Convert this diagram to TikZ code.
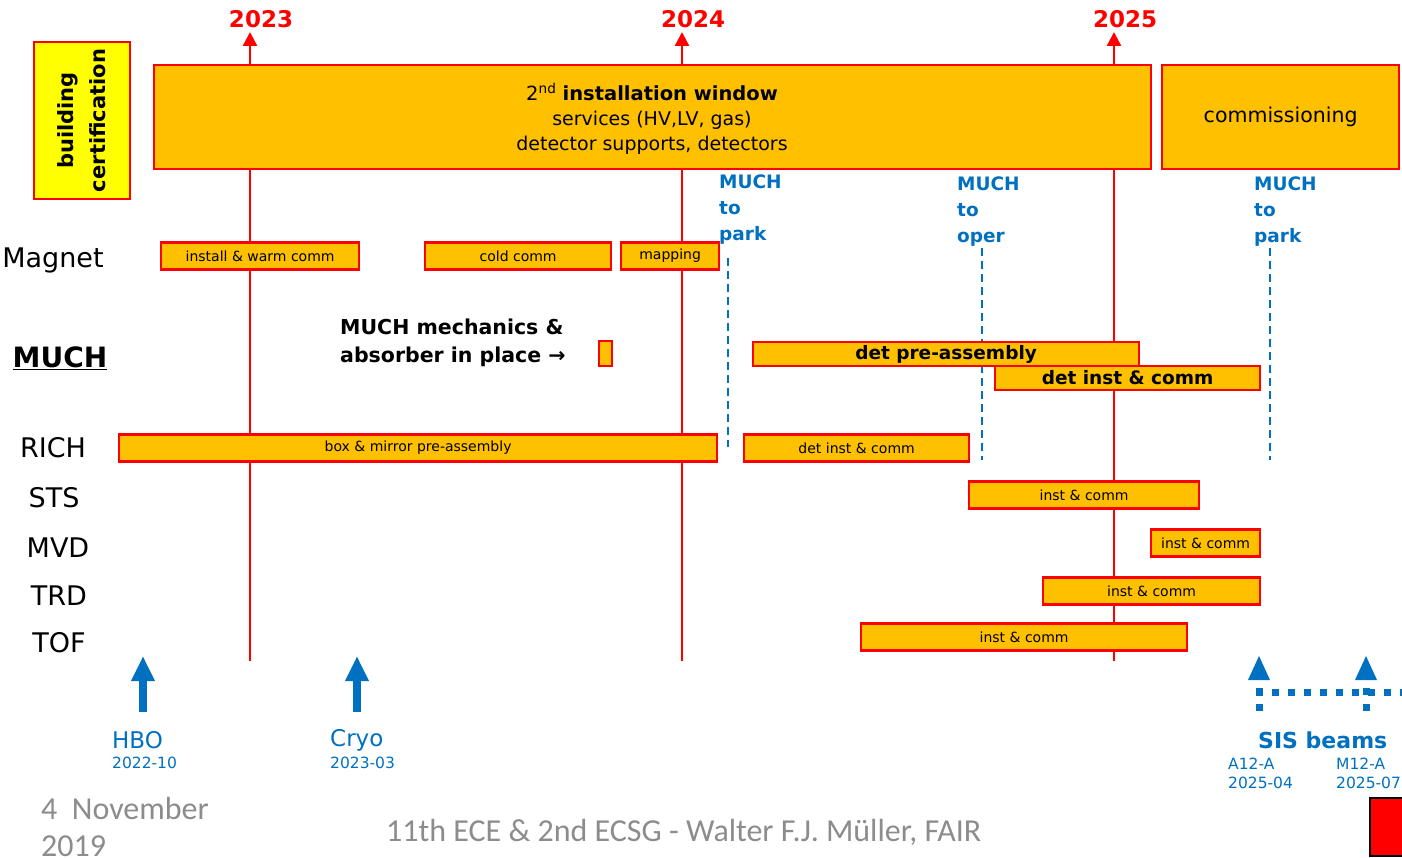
\documentclass[tikz,border=0pt]{standalone}
\usepackage{fontspec}
\setmainfont{DejaVu Sans}
\newfontfamily\footfont{Carlito}
\usetikzlibrary{arrows.meta,positioning}
\definecolor{barfill}{HTML}{FFC000}
\definecolor{barline}{HTML}{FF0000}
\definecolor{certfill}{HTML}{FFFF00}
\definecolor{muchblue}{HTML}{0070C0}
\definecolor{footgray}{HTML}{8C8C8C}
\tikzset{
  year/.style={draw=barline, line width=2.5pt, -{Triangle[width=14pt,length=14pt]}},
  yearlabel/.style={text=barline, font=\fontsize{23}{23}\selectfont\bfseries},
  bar/.style={draw=barline, fill=barfill, line width=2.2pt, inner sep=0pt, minimum height=27pt, anchor=west, font=\fontsize{14}{14}\selectfont},
  boldbar/.style={bar, minimum height=24pt, font=\fontsize{18.5}{18.5}\selectfont\bfseries},
  row/.style={font=\fontsize{27}{27}\selectfont},
  parklabel/.style={text=muchblue, anchor=west, align=left, inner sep=0pt, font=\fontsize{18.5}{26}\selectfont\bfseries},
  parkline/.style={draw=muchblue, line width=2pt, dash pattern=on 8pt off 5pt},
  bluearrow/.style={draw=muchblue, line width=8pt, -{Triangle[width=22pt,length=25pt]}},
  sisdot/.style={draw=muchblue, line width=7pt, dash pattern=on 7pt off 9pt},
  milestone/.style={text=muchblue, anchor=west, inner sep=0pt, font=\fontsize{23}{23}\selectfont},
  msdate/.style={text=muchblue, anchor=west, inner sep=0pt, font=\fontsize{15.5}{15.5}\selectfont},
  foot/.style={text=footgray, anchor=west, align=left, inner sep=0pt, font=\footfont\fontsize{32}{37}\selectfont}
}

\begin{document}
\begin{tikzpicture}[x=1pt, y=-1pt]
  \useasboundingbox (0,0) rectangle (1402,858);
  % year markers
  \foreach \yr/\x in {2023/250, 2024/682, 2025/1114}{
    \node[yearlabel] (y\yr) at (\x+11,19) {\yr};
    \draw[year] (\x,661) -- (\x,32);
  }
  % top boxes
  \node[draw=barline, fill=certfill, line width=2.2pt, minimum width=96pt, minimum height=157pt] (cert) at (82,120.5) {};
  \node[rotate=90, align=center, font=\fontsize{21}{32}\selectfont\bfseries] (certtxt) at (cert.center) {building\\certification};
  \node[bar, minimum width=997pt, minimum height=104pt] (window) at (153,117) {};
  \node[align=center, font=\fontsize{19}{25}\selectfont] (wintxt) at (652,119)
    {{\fontsize{19.5}{25}\selectfont 2\textsuperscript{nd} \textbf{installation window}}\\services (HV,LV, gas)\\detector supports, detectors};
  \node[bar, minimum width=237pt, minimum height=104pt, font=\fontsize{20.5}{20.5}\selectfont] (comm) at (1161,117) {commissioning};
  % MUCH moves
  \node[parklabel] (park1) at (719,210) {MUCH\\to\\park};
  \node[parklabel] (oper) at (957,212) {MUCH\\to\\oper};
  \node[parklabel] (park2) at (1254,212) {MUCH\\to\\park};
  \draw[parkline] (728,258) -- (728,447);
  \draw[parkline] (982,248) -- (982,460);
  \draw[parkline] (1270,248) -- (1270,460);
  % rows
  \foreach \nm/\x/\y/\txt in {magnet/53/260/Magnet, rich/53/448/RICH, sts/54/498/STS, mvd/58/548/MVD, trd/59/596/TRD, tof/59/643/TOF}
    \node[row] (\nm) at (\x,\y) {\txt};
  \node[row, font=\fontsize{28}{28}\selectfont\bfseries] (much) at (60,358) {\underline{MUCH}};
  % bars
  \foreach \nm/\xa/\xb/\yc/\txt in {magA/160/358/256/install \& warm comm, magB/424/610/256/cold comm, magC/620/718/256/mapping,
      richA/118/716/448/box \& mirror pre-assembly, richB/743/968/448/det inst \& comm,
      stsA/968/1198/495/inst \& comm, mvdA/1150/1259/543/inst \& comm, trdA/1042/1259/591/inst \& comm, tofA/860/1186/637/inst \& comm}
    \node[bar, minimum width={\xb-\xa}] (\nm) at (\xa,\yc) {\txt};
  \node[boldbar, minimum width=386pt] (muchA) at (752,354) {det pre-assembly};
  \node[boldbar, minimum width=265pt] (muchB) at (994,378) {det inst \& comm};
  \node[anchor=west, align=left, inner sep=0pt, font=\fontsize{20.5}{28}\selectfont\bfseries] (mech) at (340,343) {MUCH mechanics \&\\absorber in place →};
  \node[bar, minimum width=13pt, minimum height=25pt] (absbox) at (598,353.5) {};
  % milestones
  \draw[bluearrow] (143,712) -- (143,656);
  \draw[bluearrow] (357,712) -- (357,656);
  \node[milestone] (hbo) at (112,740) {HBO};
  \node[msdate] (hbodate) at (112,763) {2022-10};
  \node[milestone] (cryo) at (330,740) {Cryo};
  \node[msdate] (cryodate) at (330,763) {2023-03};
  % SIS beams
  \foreach \x in {1259,1366}{
    \fill[muchblue] (\x,656) -- (\x+11,680) -- (\x-11,680) -- cycle;
    \draw[sisdot] (\x,688) -- (\x,714);
  }
  \draw[sisdot] (1256,692) -- (1402,692);
  \node[milestone, font=\fontsize{22}{22}\selectfont\bfseries] (sis) at (1258,740) {SIS beams};
  \node[msdate, align=left, font=\fontsize{15.5}{19}\selectfont] (a12) at (1228,773) {A12-A\\2025-04};
  \node[msdate, align=left, font=\fontsize{15.5}{19}\selectfont] (m12) at (1336,773) {M12-A\\2025-07};
  % footer
  \node[foot] (date) at (41,827) {4\ \ November\\2019};
  \node[foot] (title) at (386,832) {11th ECE \& 2nd ECSG - Walter F.J. Müller, FAIR};
  \node[draw=black, fill=red, line width=2pt, minimum width=42pt, minimum height=58pt, inner sep=0pt, anchor=north west] (redsq) at (1369,797) {};
\end{tikzpicture}
\end{document}
